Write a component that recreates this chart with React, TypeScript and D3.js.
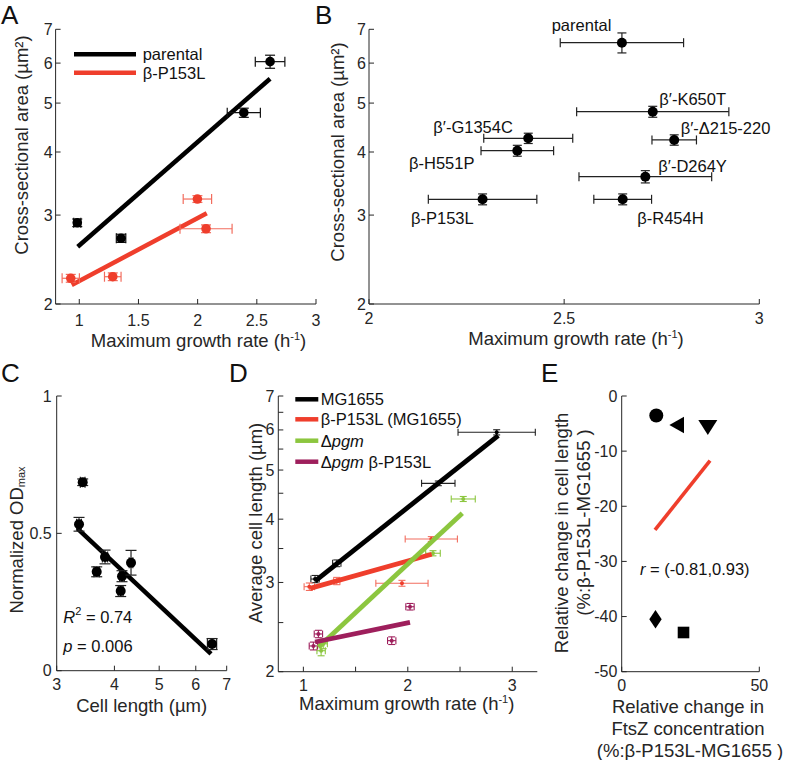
import React from 'react';
import * as d3 from 'd3';

const FONT = "'Liberation Sans', Arial, Helvetica, sans-serif";
const AX = '#262626';
const RED = '#ef3e2c';
const RED_E = '#f26d5e';
const GREEN = '#8cc63f';
const PURPLE = '#9e1f5c';

// ---------- Panel A ----------
const aParX = [0.983, 1.353, 2.39, 2.612];
const aParY = [2.897, 2.699, 4.785, 6.04];
const aParXErr = [0.03, 0.04, 0.14, 0.125];
const aParYErr = [0.05, 0.05, 0.1, 0.18];
const aMutX = [0.928, 1.283, 1.998, 2.071];
const aMutY = [2.249, 2.265, 3.228, 2.819];
const aMutXErr = [0.073, 0.07, 0.12, 0.22];
const aMutYErr = [0.04, 0.04, 0.05, 0.05];
const aParFitX = [0.987, 2.612];
const aParFitY = [2.597, 5.588];
const aMutFitX = [0.936, 2.077];
const aMutFitY = [2.181, 3.025];
const aXTicks = [1, 1.5, 2, 2.5, 3];
const logYTicks = [2, 3, 4, 5, 6, 7];

// ---------- Panel B ----------
const bNames = ['parental', 'β′-K650T', 'β′-Δ215-220', 'β′-G1354C', 'β-H551P', 'β′-D264Y', 'β-R454H', 'β-P153L'];
const bX = [2.648, 2.727, 2.782, 2.408, 2.380, 2.708, 2.650, 2.291];
const bY = [6.585, 4.807, 4.226, 4.258, 4.024, 3.574, 3.224, 3.224];
const bXErr = [0.158, 0.195, 0.057, 0.114, 0.093, 0.17, 0.074, 0.139];
const bYErr = [0.3, 0.12, 0.1, 0.1, 0.1, 0.1, 0.08, 0.08];
const bLabelPos: [number, number][] = [
  [551.7, 25], [659.3, 99], [680.7, 128.3], [433.3, 127], [409, 163.3], [658.3, 165.7], [637.3, 218.3], [411, 218.3],
];
const bXTicks = [2, 2.5, 3];

// ---------- Panel C ----------
const cX = [3.415, 3.353, 3.817, 3.662, 4.154, 4.127, 4.345, 6.508];
const cY = [0.686, 0.533, 0.414, 0.36, 0.344, 0.29, 0.393, 0.097];
const cXErr = [0.04, 0.04, 0.05, 0.05, 0.05, 0.05, 0.04, 0.15];
const cYErr = [0.012, 0.025, 0.025, 0.018, 0.02, 0.02, 0.045, 0.02];
const cFitX = [3.324, 6.474];
const cFitY = [0.518, 0.061];
const cXTicks = [3, 4, 5, 6, 7];
const cYTicks = [0, 0.5, 1];

// ---------- Panel D ----------
const dNames = ['MG1655', 'β-P153L (MG1655)', 'Δpgm', 'Δpgm β-P153L'];
const dMgX = [1.112, 1.32, 2.292, 2.851];
const dMgY = [3.047, 3.273, 4.707, 5.935];
const dMgXErr = [0.04, 0.04, 0.16, 0.37];
const dMgYErr = [0.05, 0.05, 0.05, 0.07];
const dMutX = [1.057, 1.32, 1.944, 2.225];
const dMutY = [2.943, 3.02, 2.989, 3.655];
const dMutXErr = [0.05, 0.03, 0.25, 0.25];
const dMutYErr = [0.05, 0.05, 0.04, 0.04];
const dPgmX = [1.17, 1.19, 2.241, 2.531];
const dPgmY = [2.2, 2.27, 3.426, 4.384];
const dPgmXErr = [0.04, 0.04, 0.07, 0.115];
const dPgmYErr = [0.05, 0.05, 0.04, 0.05];
const dPmX = [1.096, 1.144, 1.846, 2.021];
const dPmY = [2.248, 2.374, 2.303, 2.687];
const dPmXErr = [0.04, 0.04, 0.04, 0.04];
const dPmYErr = [0.04, 0.04, 0.04, 0.04];
const dMgFitX = [1.112, 2.866];
const dMgFitY = [3.02, 5.844];
const dMutFitX = [1.064, 2.229];
const dMutFitY = [2.921, 3.41];
const dPgmFitX = [1.144, 2.522];
const dPgmFitY = [2.235, 4.108];
const dPmFitX = [1.112, 2.021];
const dPmFitY = [2.289, 2.503];
const dXTicks = [1, 2, 3];
const dXMinor = [1.5, 2.5];
const dYMinor = [2.5, 3.5, 4.5, 5.5, 6.5];

// ---------- Panel E ----------
const eShapes = ['circle', 'left', 'down', 'diamond', 'square'];
const eX = [12.57, 19.98, 31.29, 12.28, 22.46];
const eY = [-3.54, -5.26, -5.71, -40.48, -42.89];
const eFitX = [12.1, 32.1];
const eFitY = [-24.3, -11.7];
const eXTicks = [0, 50];
const eYTicks = [0, -10, -20, -30, -40, -50];

// ---------- scales ----------
const xA = d3.scaleLinear().domain([0.8, 3]).range([55.6, 316]);
const yA = d3.scaleLog().domain([2, 7]).range([304, 29.3]);
const xB = d3.scaleLinear().domain([2, 3]).range([369, 759.3]);
const yB = d3.scaleLog().domain([2, 7]).range([304, 29.3]);
const xC = d3.scaleLog().domain([3, 7]).range([56.7, 226.7]);
const yC = d3.scaleLinear().domain([0, 1]).range([670.7, 396]);
const xD = d3.scaleLinear().domain([0.76, 3.24]).range([278.3, 537.3]);
const yD = d3.scaleLog().domain([2, 7]).range([671.7, 396]);
const xE = d3.scaleLinear().domain([0, 50]).range([621.7, 759.3]);
const yE = d3.scaleLinear().domain([-50, 0]).range([671.7, 396]);

type Sc = any;

function Axes(props: {
  x: Sc; y: Sc; xTicks: number[]; yTicks: number[]; xMinor?: number[]; yMinor?: number[];
  xOff: number; yOff: number; fmtX?: (v: number) => string; fmtY?: (v: number) => string;
}) {
  const { x, y, xTicks, yTicks, xMinor = [], yMinor = [], xOff, yOff } = props;
  const fx = props.fmtX || ((v: number) => String(v));
  const fy = props.fmtY || ((v: number) => String(v));
  const [x0, x1] = x.range();
  const [y0, y1] = y.range();
  const tl = 5;
  return (
    <g stroke={AX} fill="none" strokeWidth={1}>
      <line x1={x0} y1={y0} x2={x1} y2={y0} />
      <line x1={x0} y1={y0} x2={x0} y2={y1} />
      {xTicks.concat(xMinor).map((t, i) => (
        <line key={'xt' + i} x1={x(t)} x2={x(t)} y1={y0} y2={y0 - tl} />
      ))}
      {yTicks.concat(yMinor).map((t, i) => (
        <line key={'yt' + i} x1={x0} x2={x0 + tl} y1={y(t)} y2={y(t)} />
      ))}
      {xTicks.map((t, i) => (
        <text key={'xl' + i} x={x(t)} y={y0 + xOff + 5.8} textAnchor="middle" fill={AX} stroke="none"
          fontSize={16} fontFamily={FONT}>{fx(t)}</text>
      ))}
      {yTicks.map((t, i) => (
        <text key={'yl' + i} x={x0 - yOff} y={y(t)} textAnchor="end" dominantBaseline="central" fill={AX} stroke="none"
          fontSize={16} fontFamily={FONT}>{fy(t)}</text>
      ))}
    </g>
  );
}

function ErrPoint(props: {
  x: Sc; y: Sc; cx: number; cy: number; ex: number; ey: number; color: string; ecolor?: string;
  r: number; cap: number; sw?: number;
}) {
  const { x, y, cx, cy, ex, ey, color, r, cap } = props;
  const ec = props.ecolor || color;
  const sw = props.sw || 1.2;
  const px = x(cx), py = y(cy);
  const xl = x(cx - ex), xr = x(cx + ex);
  const yt = y(cy + ey), yb = y(cy - ey);
  return (
    <g>
      <g stroke={ec} strokeWidth={sw}>
        <line x1={xl} x2={xr} y1={py} y2={py} />
        <line x1={xl} x2={xl} y1={py - cap / 2} y2={py + cap / 2} />
        <line x1={xr} x2={xr} y1={py - cap / 2} y2={py + cap / 2} />
        <line x1={px} x2={px} y1={yt} y2={yb} />
        <line x1={px - cap / 2} x2={px + cap / 2} y1={yt} y2={yt} />
        <line x1={px - cap / 2} x2={px + cap / 2} y1={yb} y2={yb} />
      </g>
      <circle cx={px} cy={py} r={r} fill={color} />
    </g>
  );
}

function FitLine(props: { x: Sc; y: Sc; xs: number[]; ys: number[]; color: string; w: number }) {
  const { x, y, xs, ys, color, w } = props;
  return <line x1={x(xs[0])} y1={y(ys[0])} x2={x(xs[1])} y2={y(ys[1])} stroke={color} strokeWidth={w} />;
}

function Letter({ x, y, t }: { x: number; y: number; t: string }) {
  return <text x={x} y={y} fontSize={26} fontFamily={FONT} fill="#111">{t}</text>;
}

const labelProps = { fontSize: 18.5, fontFamily: FONT, fill: AX };

function HUnit() {
  return (
    <>
      <tspan>(h</tspan>
      <tspan fontSize={11} dy={-7}>-1</tspan>
      <tspan dy={7}>)</tspan>
    </>
  );
}

function EMarker({ shape, cx, cy }: { shape: string; cx: number; cy: number }) {
  if (shape === 'circle') return <circle cx={cx} cy={cy} r={7} fill="#000" />;
  if (shape === 'square') return <rect x={cx - 5.8} y={cy - 5.8} width={11.6} height={11.6} fill="#000" />;
  let pts: number[][] = [];
  if (shape === 'left') pts = [[cx - 7.3, cy], [cx + 7.3, cy - 8.3], [cx + 7.3, cy + 8.3]];
  if (shape === 'down') pts = [[cx - 9.5, cy - 7.5], [cx + 9.5, cy - 7.5], [cx, cy + 7.5]];
  if (shape === 'diamond') pts = [[cx, cy - 9.2], [cx + 6.2, cy], [cx, cy + 9.2], [cx - 6.2, cy]];
  return <polygon points={pts.map((p) => p.join(',')).join(' ')} fill="#000" />;
}

export default function App() {
  const dSeries = [
    { xs: dMgX, ys: dMgY, ex: dMgXErr, ey: dMgYErr, c: '#000', ec: '#222', fx: dMgFitX, fy: dMgFitY },
    { xs: dMutX, ys: dMutY, ex: dMutXErr, ey: dMutYErr, c: RED, ec: RED_E, fx: dMutFitX, fy: dMutFitY },
    { xs: dPgmX, ys: dPgmY, ex: dPgmXErr, ey: dPgmYErr, c: GREEN, ec: GREEN, fx: dPgmFitX, fy: dPgmFitY },
    { xs: dPmX, ys: dPmY, ex: dPmXErr, ey: dPmYErr, c: PURPLE, ec: PURPLE, fx: dPmFitX, fy: dPmFitY },
  ];
  const dColors = ['#000', RED, GREEN, PURPLE];
  const dLegY = [399.3, 419.3, 440.7, 461.7];
  return (
    <svg width={787} height={760} style={{ position: 'absolute', left: 0, top: 0, background: '#fff' }}
      fontFamily={FONT}>
      <rect width={787} height={760} fill="#fff" />
      {/* ===== Panel A ===== */}
      <Letter x={1} y={23.5} t="A" />
      <Axes x={xA} y={yA} xTicks={aXTicks} yTicks={logYTicks} xOff={16} yOff={3} />
      <FitLine x={xA} y={yA} xs={aParFitX} ys={aParFitY} color="#000" w={4.5} />
      <FitLine x={xA} y={yA} xs={aMutFitX} ys={aMutFitY} color={RED} w={4.5} />
      {aParX.map((v, i) => (
        <ErrPoint key={'ap' + i} x={xA} y={yA} cx={v} cy={aParY[i]} ex={aParXErr[i]} ey={aParYErr[i]}
          color="#000" ecolor="#111" r={4.8} cap={10} />
      ))}
      {aMutX.map((v, i) => (
        <ErrPoint key={'am' + i} x={xA} y={yA} cx={v} cy={aMutY[i]} ex={aMutXErr[i]} ey={aMutYErr[i]}
          color={RED} ecolor={RED_E} r={4.8} cap={10} />
      ))}
      <line x1={74} x2={136} y1={54.3} y2={54.3} stroke="#000" strokeWidth={4.5} />
      <line x1={74} x2={136} y1={72.7} y2={72.7} stroke={RED} strokeWidth={4.5} />
      <text x={142.7} y={54.3} dominantBaseline="central" fontSize={16.5} fill="#111">parental</text>
      <text x={142.7} y={72.7} dominantBaseline="central" fontSize={16.5} fill="#111">β-P153L</text>
      <text x={198.5} y={346.5} textAnchor="middle" {...labelProps}>Maximum growth rate <HUnit /></text>
      <text transform="translate(21,145) rotate(-90)" textAnchor="middle" dominantBaseline="central" {...labelProps}>
        Cross-sectional area (µm²)
      </text>

      {/* ===== Panel B ===== */}
      <Letter x={315} y={23.5} t="B" />
      <Axes x={xB} y={yB} xTicks={bXTicks} yTicks={logYTicks} xOff={14.3} yOff={3} />
      {bX.map((v, i) => (
        <ErrPoint key={'b' + i} x={xB} y={yB} cx={v} cy={bY[i]} ex={bXErr[i]} ey={bYErr[i]}
          color="#000" ecolor="#222" r={5} cap={9} />
      ))}
      {bNames.map((n, i) => (
        <text key={'bn' + i} x={bLabelPos[i][0]} y={bLabelPos[i][1]} dominantBaseline="central" fontSize={16.5}
          fill="#111">{n}</text>
      ))}
      <text x={576} y={344.5} textAnchor="middle" {...labelProps}>Maximum growth rate <HUnit /></text>
      <text transform="translate(337.5,152) rotate(-90)" textAnchor="middle" dominantBaseline="central" {...labelProps}>
        Cross-sectional area (µm²)
      </text>

      {/* ===== Panel C ===== */}
      <Letter x={1} y={382} t="C" />
      <Axes x={xC} y={yC} xTicks={cXTicks} yTicks={cYTicks} xOff={13.6} yOff={5} />
      <FitLine x={xC} y={yC} xs={cFitX} ys={cFitY} color="#000" w={4.5} />
      {cX.map((v, i) => (
        <ErrPoint key={'c' + i} x={xC} y={yC} cx={v} cy={cY[i]} ex={cXErr[i]} ey={cYErr[i]}
          color="#000" ecolor="#222" r={5} cap={11} />
      ))}
      <text x={63.3} y={617.3} dominantBaseline="central" fontSize={16.5} fill="#111">
        <tspan fontStyle="italic">R</tspan><tspan fontSize={11} dy={-6}>2</tspan><tspan dy={6}> = 0.74</tspan>
      </text>
      <text x={63.3} y={646} dominantBaseline="central" fontSize={16.5} fill="#111">
        <tspan fontStyle="italic">p</tspan> = 0.006
      </text>
      <text x={141.7} y={711.5} textAnchor="middle" {...labelProps}>Cell length (µm)</text>
      <text transform="translate(16,540) rotate(-90)" textAnchor="middle" dominantBaseline="central" {...labelProps}>
        Normalized OD<tspan fontSize={11} dy={5}>max</tspan>
      </text>

      {/* ===== Panel D ===== */}
      <Letter x={229} y={382} t="D" />
      <Axes x={xD} y={yD} xTicks={dXTicks} yTicks={logYTicks} xMinor={dXMinor} yMinor={dYMinor} xOff={13.3} yOff={4} />
      {dSeries.map((s, k) => (
        <g key={'ds' + k}>
          {s.xs.map((v, i) => (
            <ErrPoint key={'d' + k + '_' + i} x={xD} y={yD} cx={v} cy={s.ys[i]} ex={s.ex[i]} ey={s.ey[i]}
              color={s.c} ecolor={s.ec} r={2} cap={7} sw={1.1} />
          ))}
        </g>
      ))}
      {dSeries.map((s, k) => (
        <FitLine key={'df' + k} x={xD} y={yD} xs={s.fx} ys={s.fy} color={s.c} w={4.8} />
      ))}
      {dNames.map((n, i) => (
        <g key={'dl' + i}>
          <line x1={295.3} x2={318.3} y1={dLegY[i]} y2={dLegY[i]} stroke={dColors[i]} strokeWidth={4.5} />
          <text x={320.7} y={dLegY[i]} dominantBaseline="central" fontSize={16.5} fill="#111">
            {n.startsWith('Δpgm') ? (
              <>
                <tspan>Δ</tspan><tspan fontStyle="italic">pgm</tspan><tspan>{n.slice(4)}</tspan>
              </>
            ) : n}
          </text>
        </g>
      ))}
      <text x={406.7} y={709.5} textAnchor="middle" {...labelProps}>Maximum growth rate <HUnit /></text>
      <text transform="translate(255,523) rotate(-90)" textAnchor="middle" dominantBaseline="central" {...labelProps}>
        Average cell length (µm)
      </text>

      {/* ===== Panel E ===== */}
      <Letter x={541} y={382} t="E" />
      <Axes x={xE} y={yE} xTicks={eXTicks} yTicks={eYTicks} xOff={13.3} yOff={4.4} />
      <FitLine x={xE} y={yE} xs={eFitX} ys={eFitY} color={RED} w={3.6} />
      {eShapes.map((s, i) => (
        <EMarker key={'e' + i} shape={s} cx={xE(eX[i])} cy={yE(eY[i])} />
      ))}
      <text x={640} y={569.3} dominantBaseline="central" fontSize={16.5} fill="#111">
        <tspan fontStyle="italic">r</tspan> = (-0.81,0.93)
      </text>
      <text x={688} textAnchor="middle" {...labelProps}>
        <tspan x={688} y={712.5}>Relative change in</tspan>
        <tspan x={688} y={734.8}>FtsZ concentration</tspan>
        <tspan x={690} y={756.5}>(%:β-P153L-MG1655 )</tspan>
      </text>
      <text transform="translate(561.5,533) rotate(-90)" textAnchor="middle" dominantBaseline="central" {...labelProps}>
        Relative change in cell length
      </text>
      <text transform="translate(583,522.5) rotate(-90)" textAnchor="middle" dominantBaseline="central" {...labelProps}>
        (%:β-P153L-MG1655 )
      </text>
    </svg>
  );
}
